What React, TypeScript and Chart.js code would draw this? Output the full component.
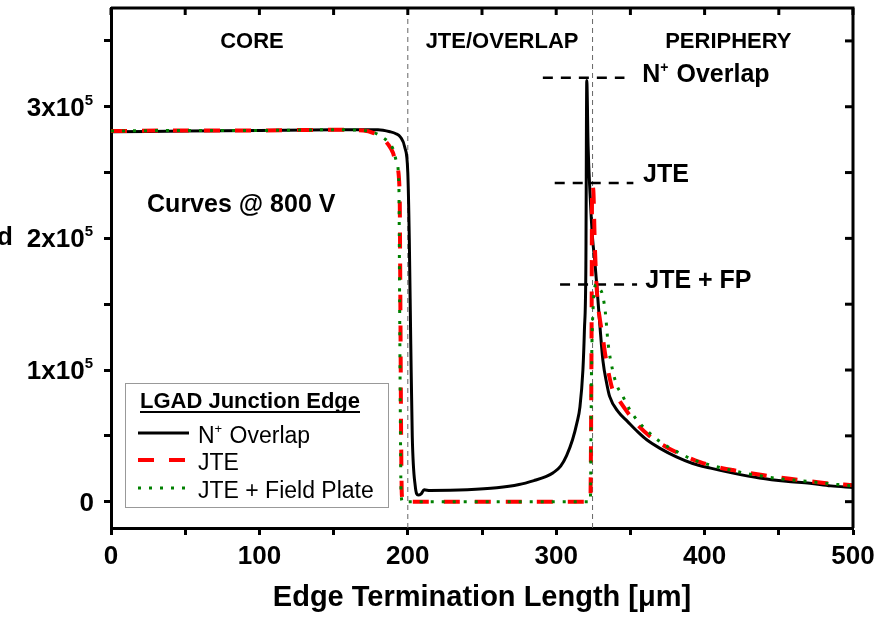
import { useEffect, useRef } from "react";
import { Chart, registerables } from "chart.js";

Chart.register(...registerables);

const FONT = "'Liberation Sans', Arial, Helvetica, sans-serif";

// ---- data (x in µm, y = field) ----
const overlapX = [0, 50, 100, 150, 180, 188, 192, 195, 198, 200, 201, 202, 203, 205, 207, 209, 211, 215, 240, 260, 275, 285, 293, 298, 303, 307, 311, 314, 316, 318, 319, 320, 320.6, 321.5, 322.8, 324.5, 326, 328, 329.5, 331.5, 334, 336, 342, 348, 355, 361, 370, 381, 392, 404, 420, 437, 455, 471, 485, 500];
const overlapY = [281000, 281500, 282000, 282500, 282500, 281000, 279500, 277000, 269000, 250000, 200000, 120000, 50000, 12000, 5000, 6000, 9000, 8500, 9000, 10500, 13000, 16000, 19000, 22000, 27000, 35000, 47000, 60000, 72000, 100000, 130000, 180000, 320000, 270000, 234000, 200000, 183000, 155000, 133000, 107000, 90000, 80000, 68000, 61000, 53000, 47000, 40500, 34000, 29000, 25500, 21500, 18000, 15500, 14000, 12000, 10800];

const jteX = [0, 50, 100, 150, 170, 177, 183, 187, 190, 192.7, 194.5, 195, 195.5, 196, 197, 250, 300, 323, 323.8, 324.2, 325, 326, 327.5, 329.5, 331, 333, 336, 338, 343, 350, 356, 365, 375, 386, 397, 408, 419, 440, 464, 482, 500];
const jteY = [281500, 282000, 282000, 282500, 282000, 280000, 276000, 271000, 265000, 254000, 235000, 150000, 50000, 5000, 0, 0, 0, 0, 120000, 240000, 237000, 196000, 158000, 138000, 128000, 112000, 94000, 85000, 76000, 65000, 57000, 48000, 41000, 35000, 30000, 26500, 24000, 20000, 16500, 14000, 12500];

const fpX = [0, 50, 100, 150, 170, 177, 184, 188, 190, 192.5, 194, 194.5, 195, 195.5, 196.5, 250, 300, 323, 323.8, 325, 327, 329, 331, 333, 335, 338, 341, 344, 350, 356, 363, 372, 383, 392, 405, 428, 450, 473, 490, 500];
const fpY = [281500, 282000, 282000, 282500, 282000, 280500, 276000, 272000, 268000, 258000, 240000, 150000, 60000, 5000, 0, 0, 0, 0, 100000, 150000, 165000, 162000, 158000, 145000, 120000, 100000, 88000, 82000, 69000, 60000, 52000, 44000, 37000, 32000, 27500, 21500, 17500, 15000, 13000, 12000];

const seriesLabels = ["N^+ Overlap", "JTE", "JTE + Field Plate"];
const legendTitle = "LGAD Junction Edge";

const xTickValues = [0, 50, 100, 150, 200, 250, 300, 350, 400, 450, 500];
const yTickValues = [0, 50000, 100000, 150000, 200000, 250000, 300000, 350000];
const yLabelled = [0, 100000, 200000, 300000];
const yLabelText = ["0", "1x10^5", "2x10^5", "3x10^5"];

const regionLabels = ["CORE", "JTE/OVERLAP", "PERIPHERY"];
const regionCenterX = [95, 263.5, 416];
const regionLabelY = 344500;

const dividerX = [200, 324.5];

const markerLabels = ["N^+ Overlap", "JTE", "JTE + FP"];
const markerLevel = [322000, 242000, 165000];
const markerStart = [291, 299, 302.6];
const markerEnd = [346, 352, 354.5];
const markerTextX = [358, 358.5, 360];
const markerTextY = [318700, 242700, 162000];

const noteText = "Curves @ 800 V";
const noteX = 24.3;
const noteY = 220000;

const xMin = 0;
const xMax = 500;
const yMin = -20000;
const yMax = 375000;

const toPts = (xs: number[], ys: number[]) => xs.map((x, i) => ({ x, y: ys[i] }));

function drawRich(
  ctx: CanvasRenderingContext2D,
  text: string,
  x: number,
  y: number,
  size: number,
  bold: boolean,
  measureOnly = false
) {
  const w = bold ? "bold " : "";
  const parts = text.split(/\^(.)/);
  let cx = x;
  ctx.textAlign = "left";
  ctx.textBaseline = "alphabetic";
  parts.forEach((p, i) => {
    if (!p) return;
    const sup = i % 2 === 1;
    const fs = sup ? Math.round(size * 0.58) : size;
    ctx.font = `${w}${fs}px ${FONT}`;
    if (!measureOnly) ctx.fillText(p, cx, sup ? y - size * 0.42 : y);
    cx += ctx.measureText(p).width + (sup ? 1 : 0);
  });
  return cx - x;
}

const decorPlugin = {
  id: "decor",
  afterDraw(chart: any) {
    const ctx: CanvasRenderingContext2D = chart.ctx;
    const { left, right, top, bottom } = chart.chartArea;
    const xs = chart.scales.x;
    const ys = chart.scales.y;
    ctx.save();
    // top & right frame
    ctx.strokeStyle = "#000";
    ctx.lineWidth = 3;
    ctx.beginPath();
    ctx.moveTo(left, top);
    ctx.lineTo(right, top);
    ctx.lineTo(right, bottom);
    ctx.stroke();
    // inward ticks
    xs.ticks.forEach((t: any) => {
      const px = xs.getPixelForValue(t.value);
      ctx.beginPath();
      ctx.moveTo(px, top);
      ctx.lineTo(px, top + 7);
      ctx.stroke();
    });
    ys.ticks.forEach((t: any) => {
      const py = ys.getPixelForValue(t.value);
      ctx.beginPath();
      ctx.moveTo(right, py);
      ctx.lineTo(right - 8, py);
      ctx.stroke();
    });

    ctx.fillStyle = "#000";
    // y tick labels with superscript exponent
    yLabelled.forEach((v, i) => {
      const py = ys.getPixelForValue(v);
      const wdt = drawRich(ctx, yLabelText[i], 0, 0, 26, true, true);
      drawRich(ctx, yLabelText[i], left - 17 - wdt, py + 9, 26, true);
    });

    // region labels
    ctx.font = `bold 22px ${FONT}`;
    ctx.textAlign = "center";
    ctx.textBaseline = "alphabetic";
    regionLabels.forEach((l, i) => {
      ctx.fillText(l, xs.getPixelForValue(regionCenterX[i]), ys.getPixelForValue(regionLabelY));
    });
    // marker labels
    markerLabels.forEach((l, i) => {
      drawRich(ctx, l, xs.getPixelForValue(markerTextX[i]), ys.getPixelForValue(markerTextY[i]), 25, true);
    });
    // note
    drawRich(ctx, noteText, xs.getPixelForValue(noteX), ys.getPixelForValue(noteY), 25, true);

    // cut-off axis title remnant
    ctx.font = `bold 26px ${FONT}`;
    ctx.textAlign = "left";
    ctx.fillText("d", -3, 245);

    // legend
    const bx = left + 14;
    const by = bottom - 145;
    const bw = 263;
    const bh = 124;
    ctx.fillStyle = "#fff";
    ctx.fillRect(bx, by, bw, bh);
    ctx.strokeStyle = "#999";
    ctx.lineWidth = 1;
    ctx.strokeRect(bx + 0.5, by + 0.5, bw, bh);
    ctx.fillStyle = "#000";
    const tw = drawRich(ctx, legendTitle, bx + 15, by + 25, 22, true);
    ctx.strokeStyle = "#000";
    ctx.lineWidth = 2;
    ctx.beginPath();
    ctx.moveTo(bx + 15, by + 29);
    ctx.lineTo(bx + 15 + tw, by + 29);
    ctx.stroke();
    const metas = [0, 1, 2].map((i) => chart.data.datasets[i]);
    const rowY = [60, 87, 115];
    metas.forEach((ds: any, i: number) => {
      ctx.save();
      ctx.strokeStyle = ds.borderColor;
      ctx.lineWidth = ds.borderWidth;
      ctx.setLineDash(ds.borderDash || []);
      ctx.beginPath();
      ctx.moveTo(bx + 13, by + rowY[i] - 10);
      ctx.lineTo(bx + 64, by + rowY[i] - 10);
      ctx.stroke();
      ctx.restore();
      ctx.fillStyle = "#000";
      drawRich(ctx, seriesLabels[i], bx + 73, by + rowY[i], 23, false);
    });
    ctx.restore();
  },
};

export default function App() {
  const ref = useRef<HTMLCanvasElement | null>(null);
  useEffect(() => {
    if (!ref.current) return;
    const axisFont = { family: FONT, size: 26, weight: "bold" as const };
    const gridOpts = {
      display: true,
      drawOnChartArea: false,
      drawTicks: true,
      tickLength: 7,
      tickWidth: 3,
      tickColor: "#000",
      color: "#000",
    };
    const chart = new Chart(ref.current, {
      type: "line",
      data: {
        datasets: [
          {
            label: "N+ Overlap",
            data: toPts(overlapX, overlapY),
            borderColor: "#000000",
            borderWidth: 3,
            borderDash: [],
            pointRadius: 0,
            cubicInterpolationMode: "monotone",
            order: 2,
          },
          {
            label: "JTE",
            data: toPts(jteX, jteY),
            borderColor: "#ff0000",
            borderWidth: 4,
            borderDash: [16, 15],
            pointRadius: 0,
            cubicInterpolationMode: "monotone",
            order: 1,
          },
          {
            label: "JTE + Field Plate",
            data: toPts(fpX, fpY),
            borderColor: "#008000",
            borderWidth: 3,
            borderDash: [3, 8],
            pointRadius: 0,
            cubicInterpolationMode: "monotone",
            order: 0,
          },
          ...dividerX.map((dx) => ({
            label: "divider",
            data: [
              { x: dx, y: yMin },
              { x: dx, y: yMax },
            ],
            borderColor: "#666666",
            borderWidth: 1,
            borderDash: [5, 4],
            pointRadius: 0,
            order: 5,
          })),
          ...markerLevel.map((lv, i) => ({
            label: "marker",
            data: [
              { x: markerStart[i], y: lv },
              { x: markerEnd[i], y: lv },
            ],
            borderColor: "#000000",
            borderWidth: 2.5,
            borderDash: [10, 8],
            pointRadius: 0,
            order: 4,
          })),
        ] as any,
      },
      options: {
        animation: false,
        responsive: false,
        devicePixelRatio: 1,
        layout: { padding: { left: 0, top: 8, right: 30, bottom: 0 } },
        plugins: {
          legend: { display: false },
          tooltip: { enabled: false },
        },
        scales: {
          x: {
            type: "linear",
            min: xMin,
            max: xMax,
            afterBuildTicks: (s: any) => {
              s.ticks = xTickValues.map((v) => ({ value: v }));
            },
            afterFit: (s: any) => {
              s.height = 89;
              s.paddingLeft = 0;
              s.paddingRight = 0;
            },
            ticks: {
              autoSkip: false,
              maxRotation: 0,
              callback: (v: any) => (Math.round(Number(v)) % 100 === 0 ? String(Math.round(Number(v))) : ""),
              font: axisFont,
              color: "#000",
              padding: 6,
            },
            grid: gridOpts,
            border: { display: true, width: 3, color: "#000" },
            title: {
              display: true,
              text: "Edge Termination Length [μm]",
              font: { family: FONT, size: 29, weight: "bold" },
              color: "#000",
              padding: { top: 0, bottom: 2 },
            },
          },
          y: {
            type: "linear",
            min: yMin,
            max: yMax,
            afterBuildTicks: (s: any) => {
              s.ticks = yTickValues.map((v) => ({ value: v }));
            },
            afterFit: (s: any) => {
              s.width = 111;
              s.paddingTop = 0;
              s.paddingBottom = 0;
            },
            ticks: {
              display: false,
            },
            grid: gridOpts,
            border: { display: true, width: 3, color: "#000" },
          },
        },
      } as any,
      plugins: [decorPlugin],
    });
    return () => chart.destroy();
  }, []);
  return (
    <div style={{ position: "absolute", left: 0, top: 0, width: 883, height: 617, background: "#fff" }}>
      <canvas ref={ref} width={883} height={617} style={{ display: "block" }} />
    </div>
  );
}
